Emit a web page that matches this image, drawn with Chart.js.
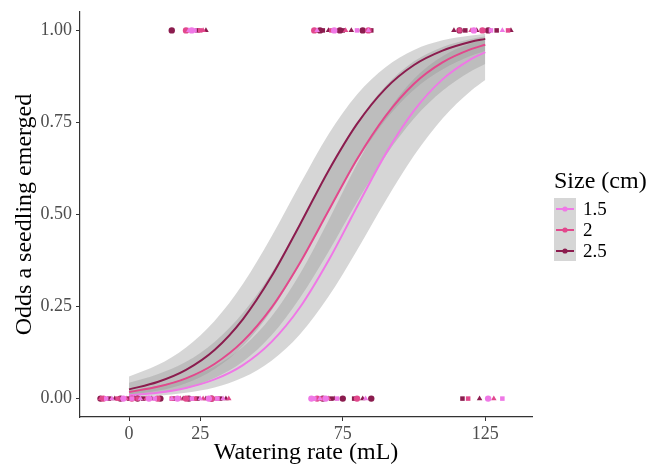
<!DOCTYPE html>
<html lang="en">
<head>
    <meta charset="UTF-8">
    <script src="https://cdn.jsdelivr.net/npm/chart.js"></script>
    <title>Seedling emergence</title>
    <style>
        * { margin: 0; padding: 0; box-sizing: border-box; }
        body { background: #fff; }
        #wrap { width: 662px; height: 464px; position: relative; }
    </style>
</head>
<body>
<div id="wrap"><canvas id="chart"></canvas></div>
<script>
    // fitted curves (watering rate in mL)
    const fitX = [0, 10, 20, 30, 40, 50, 60, 70, 80, 90, 100, 110, 120, 125];

    const fit15 = [0.009, 0.016, 0.029, 0.052, 0.091, 0.154, 0.248, 0.375, 0.521, 0.664, 0.782, 0.867, 0.922, 0.941];
    const lo15  = [0.004, 0.008, 0.016, 0.030, 0.057, 0.103, 0.175, 0.277, 0.403, 0.537, 0.660, 0.761, 0.836, 0.865];
    const hi15  = [0.022, 0.035, 0.055, 0.088, 0.141, 0.223, 0.339, 0.484, 0.637, 0.771, 0.869, 0.930, 0.965, 0.976];

    const fit2  = [0.018, 0.032, 0.055, 0.094, 0.156, 0.247, 0.369, 0.510, 0.650, 0.767, 0.855, 0.913, 0.949, 0.961];
    const lo2   = [0.007, 0.015, 0.029, 0.056, 0.101, 0.172, 0.274, 0.399, 0.534, 0.659, 0.761, 0.836, 0.889, 0.909];
    const hi2   = [0.043, 0.066, 0.100, 0.154, 0.233, 0.341, 0.476, 0.620, 0.750, 0.849, 0.916, 0.955, 0.977, 0.984];

    const fit25 = [0.025, 0.045, 0.078, 0.132, 0.216, 0.332, 0.473, 0.619, 0.746, 0.842, 0.906, 0.945, 0.969, 0.977];
    const lo25  = [0.010, 0.021, 0.042, 0.080, 0.143, 0.239, 0.367, 0.509, 0.645, 0.757, 0.839, 0.894, 0.931, 0.944];
    const hi25  = [0.060, 0.091, 0.139, 0.211, 0.312, 0.440, 0.582, 0.718, 0.826, 0.900, 0.947, 0.973, 0.986, 0.991];

    // raw observations (jittered), 0 = no seedling, 1 = emerged
    const obsX15 = [-8, -6, -2, 1, 4, 7, 9, 15, 17, 22, 25, 28, 31, 33, 64, 65, 67, 69, 73, 83, 126, 131,
                    21, 22, 23, 66, 72, 80, 84, 121, 127, 131];
    const obsY15 = [0, 0, 0, 0, 0, 0, 0, 0, 0, 0, 0, 0, 0, 0, 0, 0, 0, 0, 0, 0, 0, 0,
                    1, 1, 1, 1, 1, 1, 1, 1, 1, 1];
    const obsX2  = [-10, -9, -4, -1, 1, 3, 6, 10, 15, 18, 20, 23, 26, 29, 31, 35, 66, 68, 70, 80, 119, 128,
                    20, 25, 26, 65, 71, 76, 84, 116, 120, 124, 133];
    const obsY2  = [0, 0, 0, 0, 0, 0, 0, 0, 0, 0, 0, 0, 0, 0, 0, 0, 0, 0, 0, 0, 0, 0,
                    1, 1, 1, 1, 1, 1, 1, 1, 1, 1, 1];
    const obsX25 = [-10, -7, -5, -3, 0, 2, 3, 5, 8, 11, 16, 19, 21, 24, 27, 29, 32, 34, 68, 71, 72, 75, 79, 82, 85, 117, 123,
                    15, 24, 27, 67, 68, 70, 74, 75, 78, 82, 85, 114, 116, 118, 122, 126, 129, 134];
    const obsY25 = [0, 0, 0, 0, 0, 0, 0, 0, 0, 0, 0, 0, 0, 0, 0, 0, 0, 0, 0, 0, 0, 0, 0, 0, 0, 0, 0,
                    1, 1, 1, 1, 1, 1, 1, 1, 1, 1, 1, 1, 1, 1, 1, 1, 1, 1];

    const sizes = ['1.5', '2', '2.5'];
    const xTicks = [0, 25, 75, 125];
    const yTicks = [0, 0.25, 0.5, 0.75, 1];

    const colors = ['#ef78e6', '#e2488c', '#8b1c4e'];
    const bandFill = 'rgba(153,153,153,0.4)';
    const shapes = ['rect', 'triangle', 'circle'];
    const serif = '"Liberation Serif", "DejaVu Serif", serif';

    const toXY = (xv, yv) => xv.map((x, i) => ({ x: x, y: yv[i] }));

    const groups = [
        { fit: fit15, lo: lo15, hi: hi15, ox: obsX15, oy: obsY15 },
        { fit: fit2, lo: lo2, hi: hi2, ox: obsX2, oy: obsY2 },
        { fit: fit25, lo: lo25, hi: hi25, ox: obsX25, oy: obsY25 }
    ];

    const datasets = [];
    groups.forEach((g, k) => {
        datasets.push({
            type: 'line', data: toXY(fitX, g.lo), borderWidth: 0, pointRadius: 0,
            fill: false, order: 3, cubicInterpolationMode: 'monotone'
        });
        datasets.push({
            type: 'line', data: toXY(fitX, g.hi), borderWidth: 0, pointRadius: 0,
            fill: '-1', backgroundColor: bandFill, order: 3, cubicInterpolationMode: 'monotone'
        });
    });
    groups.forEach((g, k) => {
        datasets.push({
            type: 'line', label: sizes[k], data: toXY(fitX, g.fit), borderColor: colors[k],
            borderWidth: 2, pointRadius: 0, fill: false, order: 2, cubicInterpolationMode: 'monotone'
        });
    });
    groups.forEach((g, k) => {
        datasets.push({
            type: 'scatter', data: toXY(g.ox, g.oy), backgroundColor: colors[k],
            borderWidth: 0, pointRadius: 3.2, order: 1,
            pointStyle: ctx => shapes[(ctx.dataIndex + k) % 3]
        });
    });

    // ggplot style legend on the right
    const sideLegend = {
        id: 'sideLegend',
        afterDraw(chart) {
            const ctx = chart.ctx;
            ctx.save();
            ctx.fillStyle = '#000';
            ctx.textBaseline = 'middle';
            ctx.font = '24px ' + serif;
            ctx.fillText('Size (cm)', 554, 182);
            ctx.fillStyle = '#d6d6d6';
            ctx.fillRect(554, 198, 22, 63);
            sizes.forEach((s, i) => {
                const cy = 209 + i * 21;
                ctx.strokeStyle = colors[i];
                ctx.lineWidth = 2;
                ctx.beginPath();
                ctx.moveTo(556, cy);
                ctx.lineTo(574, cy);
                ctx.stroke();
                ctx.fillStyle = colors[i];
                ctx.beginPath();
                ctx.arc(565, cy, 2.6, 0, Math.PI * 2);
                ctx.fill();
                ctx.fillStyle = '#000';
                ctx.font = '19px ' + serif;
                ctx.fillText(s, 583, cy + 1);
            });
            ctx.restore();
        }
    };

    new Chart(document.getElementById('chart'), {
        data: { datasets: datasets },
        options: {
            responsive: true,
            maintainAspectRatio: false,
            animation: false,
            layout: { padding: { top: 12, right: 130, left: 0, bottom: 0 } },
            plugins: {
                legend: { display: false },
                tooltip: { enabled: false }
            },
            scales: {
                x: {
                    type: 'linear',
                    min: -17.2,
                    max: 141.4,
                    afterFit: s => { s.height = 47; s.paddingLeft = 0; s.paddingRight = 0; },
                    afterBuildTicks: s => { s.ticks = xTicks.map(v => ({ value: v })); },
                    ticks: {
                        color: '#4d4d4d',
                        font: { family: serif, size: 18 },
                        padding: 2,
                        maxRotation: 0,
                        callback: v => String(v)
                    },
                    grid: { drawOnChartArea: false, drawTicks: true, tickLength: 4, color: '#333' },
                    border: { display: true, color: '#333', width: 1.2 },
                    title: {
                        display: true,
                        text: 'Watering rate (mL)',
                        color: '#000',
                        font: { family: serif, size: 24, lineHeight: 1 },
                        padding: { top: 0, bottom: -1 }
                    }
                },
                y: {
                    min: -0.05,
                    max: 1.05,
                    afterFit: s => { s.width = 80; s.paddingTop = 0; s.paddingBottom = 0; },
                    afterBuildTicks: s => { s.ticks = yTicks.map(v => ({ value: v })); },
                    ticks: {
                        color: '#4d4d4d',
                        font: { family: serif, size: 18 },
                        padding: 4,
                        callback: v => v.toFixed(2)
                    },
                    grid: { drawOnChartArea: false, drawTicks: true, tickLength: 4, color: '#333' },
                    border: { display: true, color: '#333', width: 1.2 },
                    title: {
                        display: true,
                        text: 'Odds a seedling emerged',
                        color: '#000',
                        font: { family: serif, size: 24, lineHeight: 1.2 },
                        padding: { top: 10, bottom: 0 }
                    }
                }
            }
        },
        plugins: [sideLegend]
    });
</script>
</body>
</html>
